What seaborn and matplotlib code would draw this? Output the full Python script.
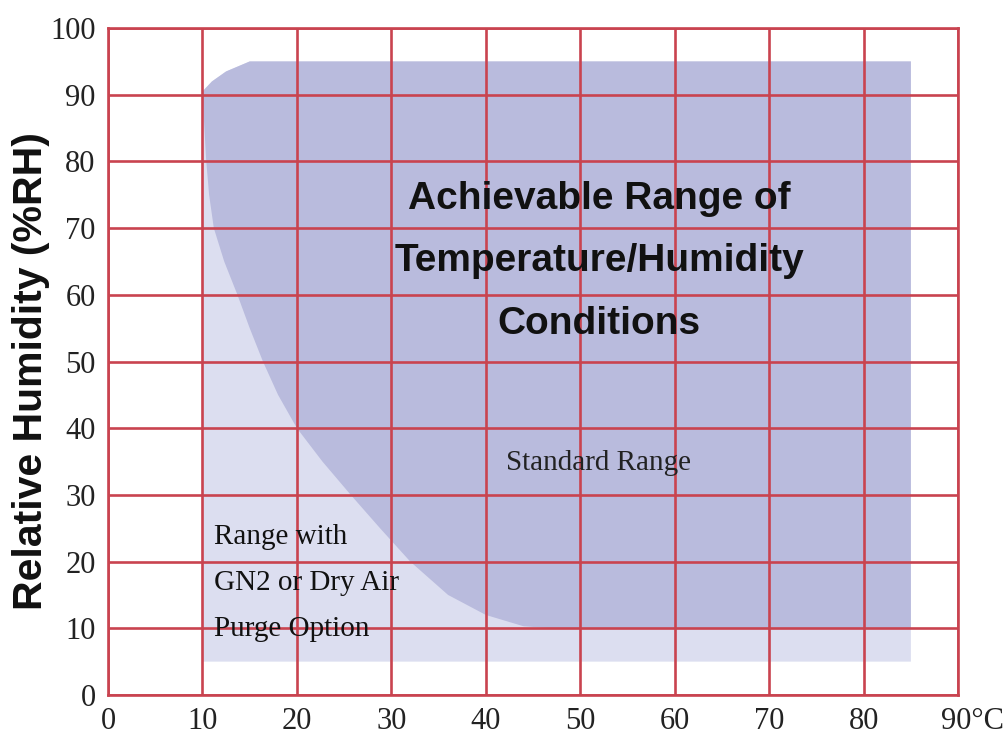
import numpy as np
import pandas as pd
import matplotlib.pyplot as plt
import matplotlib.transforms as mtransforms
import seaborn as sns

### 데이터 ###
# standard range boundary (temperature degC, humidity %RH), clockwise from top-left
std_temp = [10.0, 10.2, 10.4, 10.7, 11.2, 12.3, 13.7, 15.0, 16.4, 18.0, 20.0, 22.7, 25.7, 28.8, 32.0, 36.0, 40.0, 44.0, 47.0, 85.0, 85.0, 15.0, 12.5, 11.0]
std_rh = [90.5, 85.0, 80.0, 75.0, 70.0, 65.0, 60.0, 55.0, 50.0, 45.0, 40.0, 35.0, 30.0, 25.0, 20.0, 15.0, 12.0, 10.3, 10.0, 10.0, 95.0, 95.0, 93.5, 92.0]

# purge option range (GN2 / dry air)
purge_temp = [10.0, 85.0, 85.0, 15.0, 12.5, 11.0, 10.0]
purge_rh = [5.0, 5.0, 95.0, 95.0, 93.5, 92.0, 90.5]

x_ticks = [0, 10, 20, 30, 40, 50, 60, 70, 80, 90]
x_labels = ['0', '10', '20', '30', '40', '50', '60', '70', '80', '90°C']
y_ticks = [0, 10, 20, 30, 40, 50, 60, 70, 80, 90, 100]

std_df = pd.DataFrame({'temp': std_temp, 'rh': std_rh})
purge_df = pd.DataFrame({'temp': purge_temp, 'rh': purge_rh})

### 스타일 ###
grid_red = '#c9434f'
sns.set_theme(style='whitegrid', rc={
    'grid.color': grid_red,
    'grid.linewidth': 1.9,
    'axes.edgecolor': grid_red,
    'axes.linewidth': 1.9,
})
plt.rcParams['font.family'] = ['Liberation Serif', 'DejaVu Serif']

fig = plt.figure(figsize=(10.06, 7.51), dpi=100)
ax = fig.add_axes([0.1074, 0.0746, 0.845, 0.888])

ax.fill(purge_df['temp'], purge_df['rh'], color='#dcdef0', zorder=1, lw=0)
ax.fill(std_df['temp'], std_df['rh'], color='#b9bbdd', zorder=1.2, lw=0)
ax.set_axisbelow(False)

ax.set_xlim(x_ticks[0], x_ticks[-1])
ax.set_ylim(y_ticks[0], y_ticks[-1])
ax.set_xticks(x_ticks)
ax.set_yticks(y_ticks)
ax.set_xticklabels(x_labels)
ax.set_yticklabels([str(t) for t in y_ticks])
ax.tick_params(axis='both', labelsize=22, pad=9, length=0, colors='#222222')

# 마지막 라벨 "90°C" 는 왼쪽 정렬로 살짝 이동
last = ax.get_xticklabels()[-1]
last.set_horizontalalignment('left')
last.set_transform(last.get_transform() + mtransforms.ScaledTranslation(-0.17, 0, fig.dpi_scale_trans))

ax.set_xlabel('')
ax.set_ylabel('Relative Humidity (%RH)', fontsize=29.5, fontweight='bold',
              family=['Liberation Sans', 'DejaVu Sans'], color='#111111')
ax.yaxis.set_label_coords(-0.068, 0.485)

# 주석
ax.text(52, 65.0, 'Achievable Range of\nTemperature/Humidity\nConditions', ha='center', va='center',
        fontsize=28, fontweight='bold', family=['Liberation Sans', 'DejaVu Sans'],
        linespacing=1.93, color='#111111', zorder=3)
ax.text(51.9, 34.8, 'Standard Range', ha='center', va='center', fontsize=21,
        color='#222222', zorder=3)
ax.text(11.2, 16.8, 'Range with\nGN2 or Dry Air\nPurge Option', ha='left', va='center',
        fontsize=21, linespacing=2.0, color='#111111', zorder=3)

fig.savefig('out.png', dpi=100)
